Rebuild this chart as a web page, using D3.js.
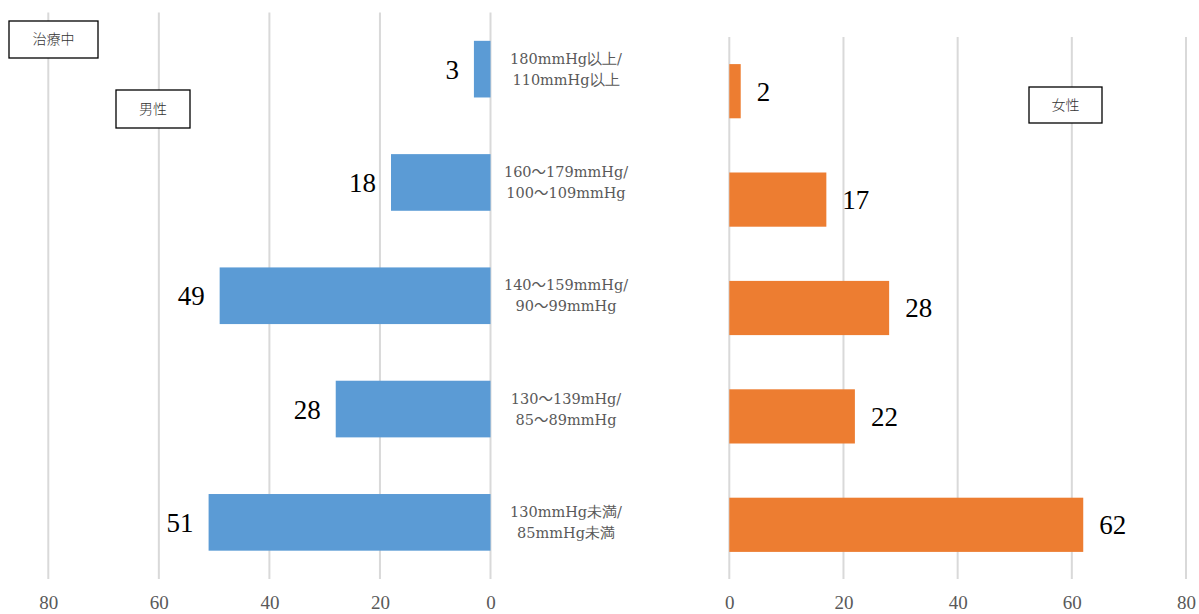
<!DOCTYPE html>
<html>
<head>
<meta charset="utf-8">
<script src="https://cdn.jsdelivr.net/npm/d3@7"></script>
<style>
  html, body { margin: 0; padding: 0; background: #fff; }
  svg { display: block; }
</style>
</head>
<body>
<svg id="chart" width="1199" height="614"></svg>
<script>
// Blood pressure bands (two-line labels, top to bottom)
const categories = [
  ["180mmHg以上/", "110mmHg以上"],
  ["160～179mmHg/", "100～109mmHg"],
  ["140～159mmHg/", "90～99mmHg"],
  ["130～139mHg/", "85～89mmHg"],
  ["130mmHg未満/", "85mmHg未満"]
];
const maleValues = [3, 18, 49, 28, 51];
const femaleValues = [2, 17, 28, 22, 62];
const tickValues = [0, 20, 40, 60, 80];

const svg = d3.select("#chart");
const keys = d3.range(categories.length);

const serif = "'DejaVu Serif', serif";
const valueFont = "'Liberation Serif', 'DejaVu Serif', serif";
const cjkSans = "'Noto Sans CJK JP', sans-serif";

// Male panel (bars grow leftwards)
const xMale = d3.scaleLinear().domain([0, 80]).range([490.5, 48.3]);
const yMale = d3.scaleBand().domain(keys).range([12.5, 579]).paddingInner(0.5).paddingOuter(0.25);

// Female panel (bars grow rightwards)
const xFemale = d3.scaleLinear().domain([0, 80]).range([729.3, 1186]);
const yFemale = d3.scaleBand().domain(keys).range([37, 579]).paddingInner(0.5).paddingOuter(0.25);

function drawGrid(x, y) {
  const r = y.range();
  svg.append("g").selectAll("line").data(tickValues).join("line")
    .attr("x1", d => x(d)).attr("x2", d => x(d))
    .attr("y1", r[0]).attr("y2", r[1])
    .attr("stroke", "#d9d9d9").attr("stroke-width", 2);
  const axis = d3.axisBottom(x).tickValues(tickValues).tickSize(0).tickPadding(0);
  const g = svg.append("g").attr("transform", "translate(0,609)").call(axis);
  g.select(".domain").remove();
  g.selectAll("text")
    .attr("dy", "0")
    .attr("y", 0)
    .attr("font-family", valueFont)
    .attr("font-size", 19)
    .attr("fill", "#595959");
}
drawGrid(xMale, yMale);
drawGrid(xFemale, yFemale);

// Male bars
svg.append("g").selectAll("rect").data(maleValues).join("rect")
  .attr("x", d => xMale(d))
  .attr("y", (d, i) => yMale(i))
  .attr("width", d => xMale(0) - xMale(d))
  .attr("height", yMale.bandwidth())
  .attr("fill", "#5B9BD5");

svg.append("g").selectAll("text").data(maleValues).join("text")
  .attr("x", d => xMale(d) - 15)
  .attr("y", (d, i) => yMale(i) + yMale.bandwidth() / 2)
  .attr("dy", "0.35em")
  .attr("text-anchor", "end")
  .attr("font-family", valueFont)
  .attr("font-size", 27)
  .attr("fill", "#000")
  .text(d => d);

// Female bars
svg.append("g").selectAll("rect").data(femaleValues).join("rect")
  .attr("x", xFemale(0))
  .attr("y", (d, i) => yFemale(i))
  .attr("width", d => xFemale(d) - xFemale(0))
  .attr("height", yFemale.bandwidth())
  .attr("fill", "#ED7D31");

svg.append("g").selectAll("text").data(femaleValues).join("text")
  .attr("x", d => xFemale(d) + 16)
  .attr("y", (d, i) => yFemale(i) + yFemale.bandwidth() / 2)
  .attr("dy", "0.35em")
  .attr("text-anchor", "start")
  .attr("font-family", valueFont)
  .attr("font-size", 27)
  .attr("fill", "#000")
  .text(d => d);

// Category labels between panels; the wave dash is set in the CJK face
const catG = svg.append("g");
categories.forEach((lines, i) => {
  const cy = yMale(i) + yMale.bandwidth() / 2;
  lines.forEach((ln, j) => {
    const t = catG.append("text")
      .attr("x", 566)
      .attr("y", cy - 10.5 + j * 21)
      .attr("dy", "0.35em")
      .attr("text-anchor", "middle")
      .attr("font-family", serif)
      .attr("font-size", 14.5)
      .attr("fill", "#595959");
    ln.split("～").forEach((part, k) => {
      if (k > 0) t.append("tspan").attr("font-family", cjkSans).text("～");
      t.append("tspan").text(part);
    });
  });
});

// Boxed annotations
function labelBox(x0, y0, w, h, txt) {
  const g = svg.append("g");
  g.append("rect").attr("x", x0).attr("y", y0).attr("width", w).attr("height", h)
    .attr("fill", "#fff").attr("stroke", "#000").attr("stroke-width", 1.3);
  g.append("text").attr("x", x0 + w / 2).attr("y", y0 + h / 2).attr("dy", "0.35em")
    .attr("text-anchor", "middle")
    .attr("font-family", cjkSans).attr("font-size", 14).attr("font-weight", 300).attr("fill", "#333")
    .text(txt);
}
labelBox(9, 21, 89, 37, "治療中");
labelBox(116, 90, 74, 38, "男性");
labelBox(1029, 87, 73, 36, "女性");
</script>
</body>
</html>
